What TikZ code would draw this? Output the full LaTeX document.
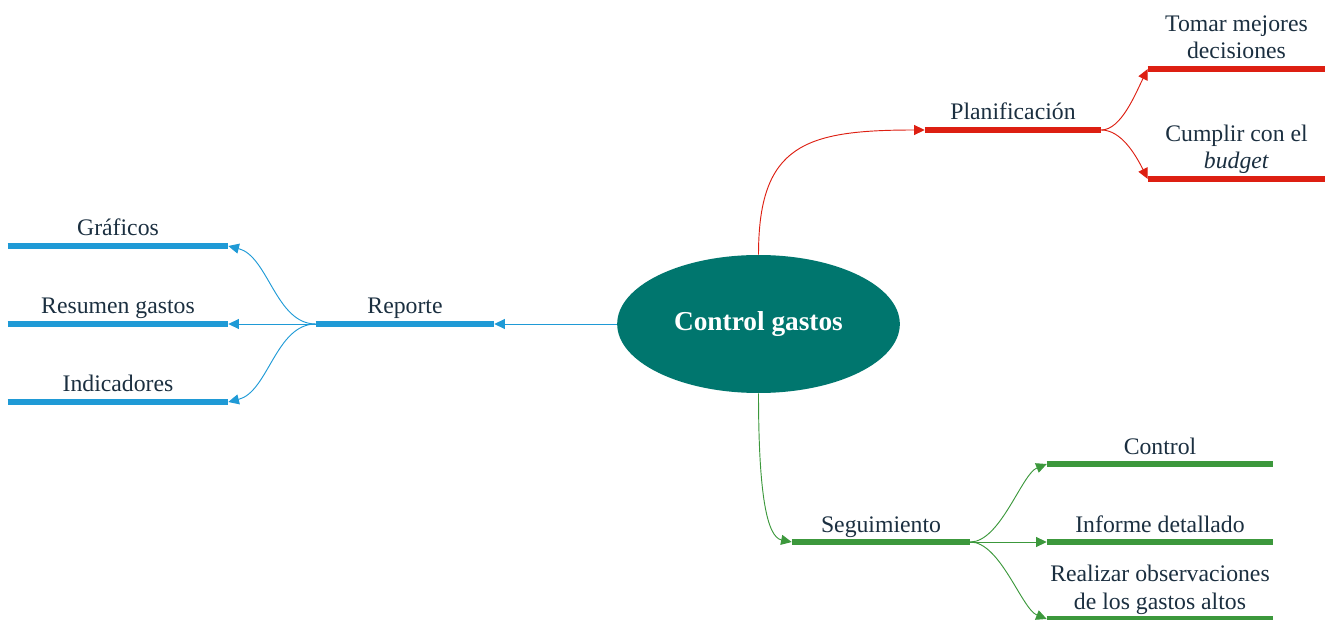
\documentclass[tikz,border=0pt]{standalone}
\usepackage{fontspec}
\setmainfont{LiberationSerif}[Extension=.ttf, UprightFont=*-Regular, BoldFont=*-Bold,
  ItalicFont=*-Italic, BoldItalicFont=*-BoldItalic]
\usetikzlibrary{shapes.geometric,arrows.meta}
\definecolor{txt}{HTML}{1B2F40}
\definecolor{core}{HTML}{00766E}
\definecolor{cblue}{HTML}{1F9AD6}
\definecolor{cred}{HTML}{DD1F12}
\definecolor{cgreen}{HTML}{3C983C}
\begin{document}
\begin{tikzpicture}[x=0.75pt,y=-0.75pt,
  topic/.style={anchor=south, minimum width=#1, inner xsep=0pt, inner ysep=1.3pt,
    text depth=6pt, align=center, text=txt, font=\fontsize{17.8}{20.3}\selectfont},
  bar/.style={line width=4.4pt, draw=#1},
  link/.style={draw=#1, line width=0.7pt, -{Triangle[length=8pt,width=7.5pt,fill=#1]}},
]
\useasboundingbox (0,0) rectangle (1325,620);
\coordinate (edge) at (1325,0);

% central topic
\node[ellipse, fill=core, minimum width=212pt, minimum height=103.5pt, inner sep=0pt,
  text=white, font=\fontsize{20.5}{24}\selectfont\bfseries] (ell) at (758.5,324) {Control gastos};

% left branch
\node[topic=133.5pt] (rep) at (405,324) {Reporte};
\node[topic=165pt] (graf) at (118,246) {Gráficos};
\node[topic=165pt] (res) at (118,324) {Resumen gastos};
\node[topic=165pt] (ind) at (118,402) {Indicadores};
\foreach \n in {rep,graf,res,ind}
  \draw[bar=cblue] (\n.south west) -- (\n.south east);
\draw[link=cblue] (ell.west) -- (rep.south east);
\draw[link=cblue] (rep.south west) .. controls +(-40,0) and +(40,10) .. (graf.south east);
\draw[link=cblue] (rep.south west) -- (res.south east);
\draw[link=cblue] (rep.south west) .. controls +(-40,0) and +(40,-10) .. (ind.south east);

% upper branch
\node[topic=132pt] (plan) at (1013,130) {Planificación};
\node[topic=132.75pt] (tom) at (1236.5,69) {Tomar mejores\\decisiones};
\node[topic=132.75pt] (cum) at (1236.5,179) {Cumplir con el\\\textit{budget}};
\draw[bar=cred] (plan.south west) -- (plan.south east);
\draw[bar=cred] (tom.south west) -- (tom.south west -| edge);
\draw[bar=cred] (cum.south west) -- (cum.south west -| edge);
\draw[link=cred] (ell.north) .. controls +(0,-110) and +(-120,0) .. (plan.south west);
\draw[link=cred] (plan.south east) .. controls +(20,0) and +(-12,24) .. (tom.south west);
\draw[link=cred] (plan.south east) .. controls +(20,0) and +(-12,-24) .. (cum.south west);

% lower branch
\node[topic=133.5pt] (seg) at (881,542) {Seguimiento};
\node[topic=169.5pt] (ctl) at (1160,464) {Control};
\node[topic=169.5pt] (inf) at (1160,542) {Informe detallado};
\node[topic=169.5pt] (rea) at (1160,619) {Realizar observaciones\\de los gastos altos};
\foreach \n in {seg,ctl,inf,rea}
  \draw[bar=cgreen] (\n.south west) -- (\n.south east);
\draw[link=cgreen] (ell.south) .. controls +(0,100) and +(-25,-5) .. (seg.south west);
\draw[link=cgreen] (seg.south east) .. controls +(30,0) and +(-25,10) .. (ctl.south west);
\draw[link=cgreen] (seg.south east) -- (inf.south west);
\draw[link=cgreen] (seg.south east) .. controls +(30,0) and +(-25,-10) .. (rea.south west);
\end{tikzpicture}
\end{document}
